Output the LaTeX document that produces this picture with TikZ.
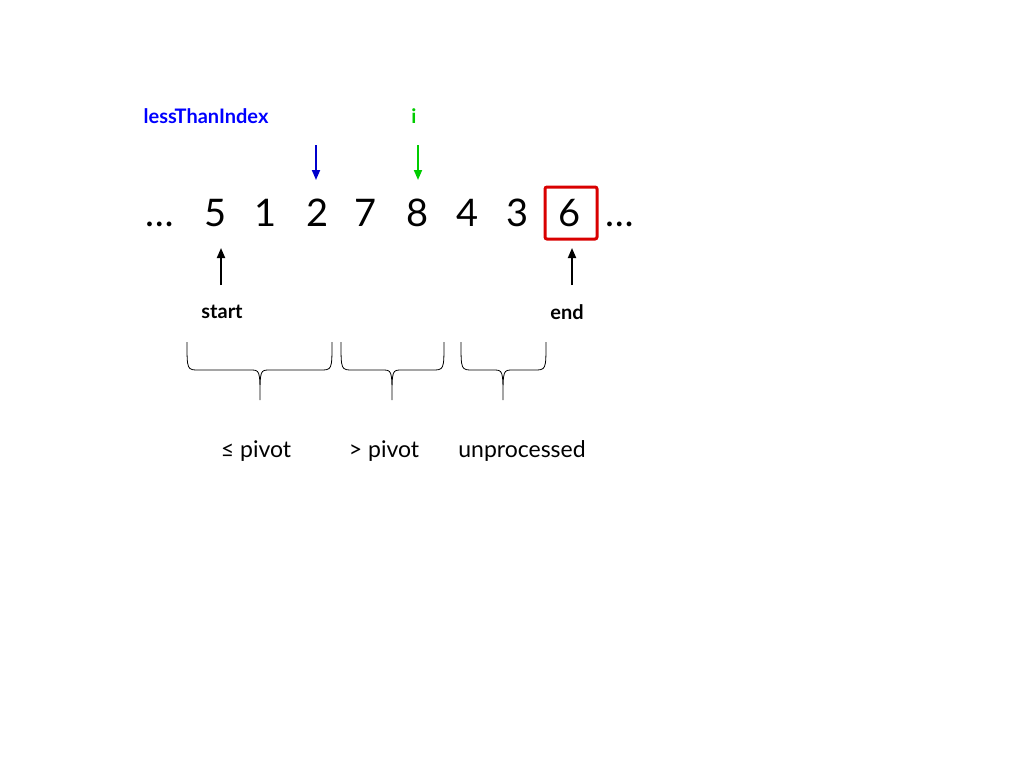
\documentclass[tikz,border=0pt]{standalone}
\usepackage{fontspec}
\setmainfont{Lato}
\usetikzlibrary{arrows.meta}
\begin{document}
\begin{tikzpicture}[x=1pt,y=-1pt,
  num/.style={font=\fontsize{38}{40}\selectfont,anchor=base,inner sep=0},
  lbl/.style={font=\bfseries\fontsize{20}{22}\selectfont},
  bot/.style={font=\fontsize{23}{25}\selectfont},
  arr/.style={-{Triangle[length=10pt,width=8pt]},line width=1.8pt},
  brace/.style={line width=0.8pt}]
\useasboundingbox (0,0) rectangle (1024,768);
\node[num] (d0) at (160,226) {…};
\node[num] (n5) at (216,226) {5};
\node[num] (n1) at (266,226) {1};
\node[num] (n2) at (318,226) {2};
\node[num] (n7) at (366,226) {7};
\node[num] (n8) at (418,226) {8};
\node[num] (n4) at (468,226) {4};
\node[num] (n3) at (518,226) {3};
\node[num] (n6) at (570,226) {6};
\node[num] (d1) at (620,226) {…};
\node[draw=red!85!black,line width=3pt,rounded corners=2pt,minimum width=52pt,minimum height=52pt] (box) at (571,213) {};
\node[lbl,text=blue] (lti) at (206,116) {lessThanIndex};
\node[lbl,text=green!80!black] (iv) at (414,116) {i};
\node[lbl] (st) at (222,312) {start};
\node[lbl] (en) at (567,312) {end};
\coordinate (b1) at (316,145); \coordinate (b2) at (316,180);
\draw[arr,blue!80!black] (b1) -- (b2);
\coordinate (g1) at (418,145); \coordinate (g2) at (418,180);
\draw[arr,green!80!black] (g1) -- (g2);
\coordinate (s0) at (221,285); \coordinate (s1) at (221,248);
\draw[arr] (s0) -- (s1);
\coordinate (e0) at (572,285); \coordinate (e1) at (572,248);
\draw[arr] (e0) -- (e1);
\foreach \a/\t/\b in {187/260/332, 341/392/444, 461/503/546}{
  \draw[brace] (\a,342) .. controls (\a,370) .. (\a+12,370) -- (\t-10,370)
     .. controls (\t,370) .. (\t,400) .. controls (\t,370) .. (\t+10,370)
     -- (\b-12,370) .. controls (\b,370) .. (\b,342);
}
\node[bot] (l1) at (256,451) {≤ pivot};
\node[bot] (l2) at (384,451) {> pivot};
\node[bot] (l3) at (522,451) {unprocessed};
\end{tikzpicture}
\end{document}
